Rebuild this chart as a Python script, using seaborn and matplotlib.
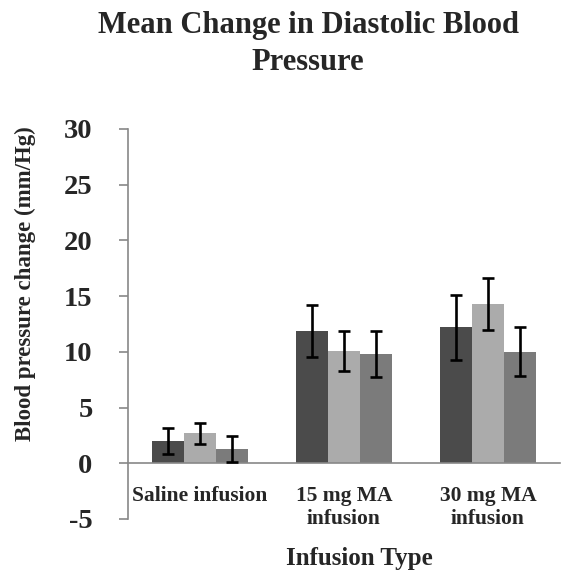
import matplotlib
matplotlib.use("Agg")
import matplotlib.pyplot as plt
import seaborn as sns
import pandas as pd
import numpy as np

categories = ["Saline infusion", "15 mg MA\ninfusion", "30 mg MA\ninfusion"]
series = ["Series 1", "Series 2", "Series 3"]
values_s1 = [2.0, 11.9, 12.2]
values_s2 = [2.7, 10.1, 14.3]
values_s3 = [1.3, 9.8, 10.0]
errors_s1 = [1.2, 2.35, 2.9]
errors_s2 = [0.95, 1.8, 2.3]
errors_s3 = [1.15, 2.1, 2.2]
colors = ["#4b4b4b", "#ababab", "#7b7b7b"]

vals = [values_s1, values_s2, values_s3]
errs = [errors_s1, errors_s2, errors_s3]
rows = []
for s, v in zip(series, vals):
    for c, x in zip(categories, v):
        rows.append({"Infusion Type": c, "Series": s, "Change": x})
df = pd.DataFrame(rows)

sns.set_theme(style="white")
plt.rcParams["font.family"] = ["Liberation Serif", "DejaVu Serif"]

fig = plt.figure(figsize=(5.66, 5.73), dpi=100)
ax = fig.add_axes([128/566, 1-519/573, (560-128)/566, (519-129)/573])

sns.barplot(data=df, x="Infusion Type", y="Change", hue="Series",
            order=categories, hue_order=series, palette=colors,
            width=0.667, errorbar=None, ax=ax, legend=False,
            saturation=1, linewidth=0)

for cont, e in zip(ax.containers, errs):
    xs = [b.get_x() + b.get_width()/2 for b in cont]
    hs = [b.get_height() for b in cont]
    ax.errorbar(xs, hs, yerr=e, fmt="none", ecolor="black",
                elinewidth=1.9, capsize=4.5, capthick=1.9, zorder=5)

ax.set_ylim(-5, 30)
ax.set_xlim(-0.5, 2.5)
ax.set_yticks(range(-5, 31, 5))
ax.set_yticklabels([str(t) for t in range(-5, 31, 5)])

for side in ["top", "right"]:
    ax.spines[side].set_visible(False)
ax.spines["left"].set_color("#888888")
ax.spines["left"].set_linewidth(1.2)
ax.spines["bottom"].set_position(("data", 0))
ax.spines["bottom"].set_color("#888888")
ax.spines["bottom"].set_linewidth(1.2)

ax.tick_params(axis="y", direction="out", length=6.5, width=1.2,
               color="#888888", pad=19, labelsize=20.5, left=True)
for lab in ax.get_yticklabels():
    lab.set_fontweight("bold")
ax.tick_params(axis="x", length=0, pad=16, labelsize=15.5)
for lab in ax.get_xticklabels():
    lab.set_fontweight("bold")

ax.set_ylabel("Blood pressure change (mm/Hg)", fontsize=16.5, fontweight="bold")
ax.yaxis.set_label_coords(-(128-36)/432, (519-284)/390)
ax.set_xlabel("Infusion Type", fontsize=18, fontweight="bold")
ax.xaxis.label.set_va("center")
ax.xaxis.set_label_coords(0.5 + (359-344)/432, -(558-519)/390)

fig.text(308/566, 1-44/573, "Mean Change in Diastolic Blood\nPressure",
         ha="center", va="center", fontsize=22, fontweight="bold",
         linespacing=1.4)

fig.savefig("out.png", dpi=100)
